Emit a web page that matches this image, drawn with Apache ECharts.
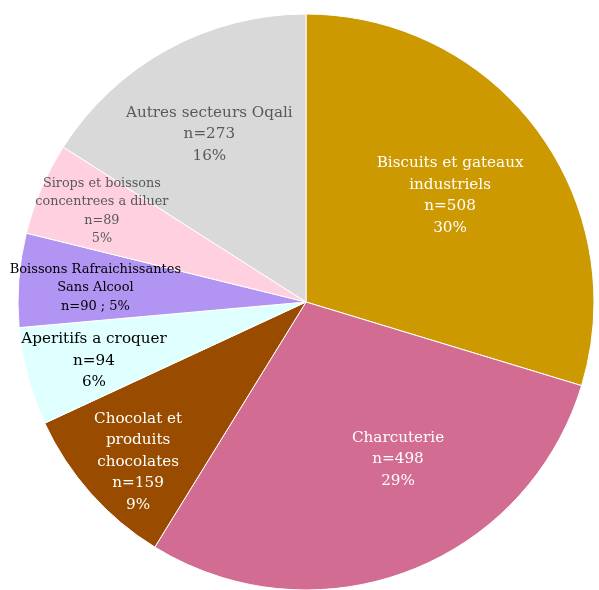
<!DOCTYPE html>
<html><head><meta charset="utf-8">
<script src="https://cdn.jsdelivr.net/npm/echarts@6/dist/echarts.min.js"></script>
<style>html,body{margin:0;padding:0;background:#fff}#c{width:599px;height:590px}</style>
</head><body><div id="c"></div>
<script>
const categories = ["Biscuits et gateaux\nindustriels","Charcuterie","Chocolat et\nproduits\nchocolates","Aperitifs a croquer","Boissons Rafraichissantes\nSans Alcool","Sirops et boissons\nconcentrees a diluer","Autres secteurs Oqali"];
const counts = [508,498,159,94,90,89,273];
const percents = [30,29,9,6,5,5,16];
const colors = ["#CC9900","#D26C93","#994C00","#E0FFFF","#B294F2","#FFD1E0","#D9D9D9"];
const textColors = ["#ffffff","#ffffff","#ffffff","#000000","#000000","#595959","#595959"];
const fontSizes = [15.2,15.2,15.2,15.2,13,12.8,15.2];
const lineHeights = [21.5,21.5,21.5,21.5,18.5,18.5,21.5];
const labelOffsets = [[26,-19],[40,20],[-58,62],[-70,21],[-64,-3],[-69,-33],[-26,-39]];

function labelText(i){
  if(i===4) return categories[i]+"\nn="+counts[i]+" ; "+percents[i]+"%";
  return categories[i]+"\nn="+counts[i]+"\n"+percents[i]+"%";
}
const data = categories.map((c,i)=>({
  name:c, value:counts[i],
  itemStyle:{color:colors[i]},
  label:{formatter:labelText(i), color:textColors[i], fontSize:fontSizes[i], lineHeight:lineHeights[i], offset:labelOffsets[i]}
}));
const chart = echarts.init(document.getElementById('c'));
chart.setOption({
  animation:false,
  series:[{
    type:'pie', center:[306,302], radius:288, startAngle:90, clockwise:true,
    itemStyle:{borderColor:'#ffffff', borderWidth:1},
    label:{show:true, position:'inside', fontFamily:'DejaVu Serif', align:'center'},
    labelLine:{show:false},
    emphasis:{disabled:true},
    data:data
  }]
});
</script></body></html>
